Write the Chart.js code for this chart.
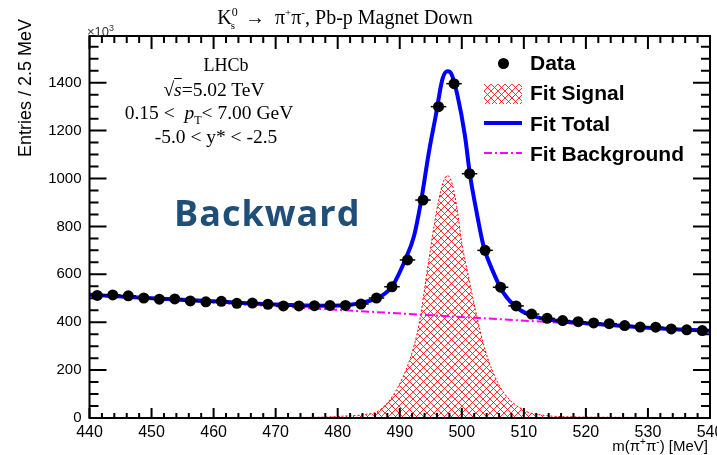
<!DOCTYPE html>
<html>
<head>
<meta charset="utf-8">
<script src="https://cdn.jsdelivr.net/npm/chart.js@4.4.1/dist/chart.umd.min.js"></script>
<style>
body { margin: 0; background: #fff; }
#wrap { position: relative; width: 717px; height: 455px; overflow: hidden; }
#wrap div.t { position: absolute; white-space: nowrap; line-height: 1; color: #000; }
.serif { font-family: 'Liberation Serif', 'Times New Roman', serif; font-size: 19.5px; }
.sans { font-family: 'Liberation Sans', Arial, sans-serif; }
.leg { font-family: 'Liberation Sans', Arial, sans-serif; font-weight: bold; font-size: 21px; }
.sym { position: absolute; }
</style>
</head>
<body>
<div id="wrap">
  <canvas id="myChart" width="717" height="455"></canvas>

  <div class="t serif" style="left:345px; top:6px; font-size:20px; transform:translateX(-50%);">K<sup style="font-size:12px;">0</sup><sub style="font-size:11px; margin-left:-7px;">s</sub>&nbsp; &rarr; &nbsp;&pi;<sup style="font-size:11px;">+</sup>&pi;<sup style="font-size:11px;">-</sup>, Pb-p Magnet Down</div>
  <div class="t sans" style="left:87px; top:24px; font-size:13px; color:#333;">&times;10<sup style="font-size:9px;">3</sup></div>

  <div class="t serif" style="left:226px; top:56px; font-size:18px; transform:translateX(-50%);">LHCb</div>
  <div class="t serif" style="left:214px; top:80px; transform:translateX(-50%);">&radic;<span style="text-decoration:overline; font-style:italic;">s</span>=5.02 TeV</div>
  <div class="t serif" style="left:209px; top:103px; transform:translateX(-50%);">0.15 &lt;&nbsp; <i>p</i><sub style="font-size:12px;">T</sub>&lt; 7.00 GeV</div>
  <div class="t serif" style="left:216px; top:127px; transform:translateX(-50%);">-5.0 &lt; y* &lt; -2.5</div>

  <div class="t" style="left:174px; top:195px; font-family:'Open Sans', sans-serif; font-weight:bold; font-size:36px; letter-spacing:1px; color:#1f4e79;">Backward</div>

  <div class="sym" style="left:498px; top:58px; width:11px; height:11px; border-radius:50%; background:#000;"></div>
  <div class="t leg" style="left:530px; top:52px;">Data</div>
  <div class="sym" id="sigSym" style="left:484px; top:84px; width:38px; height:20px;"></div>
  <div class="t leg" style="left:530px; top:82px;">Fit Signal</div>
  <div class="sym" style="left:484px; top:121px; width:38px; height:4px; background:#0000ff;"></div>
  <div class="t leg" style="left:530px; top:113px;">Fit Total</div>
  <div class="sym" style="left:484px; top:152px; width:38px; height:2px; background:repeating-linear-gradient(90deg, #ff00ff 0 8px, transparent 8px 11px, #ff00ff 11px 13px, transparent 13px 16px);"></div>
  <div class="t leg" style="left:530px; top:143px;">Fit Background</div>

  <div class="t sans" style="left:25px; top:88px; font-size:18px; transform:translate(-50%,-50%) rotate(-90deg);">Entries / 2.5 MeV</div>
  <div class="t sans" style="right:9px; top:437px; font-size:15px;">m(&pi;<sup style="font-size:10px;">+</sup>&pi;<sup style="font-size:10px;">-</sup>) [MeV]</div>
</div>

<script>
// bins of 2.5 MeV, values in units of 10^3 entries
const massBins = [441.25, 443.75, 446.25, 448.75, 451.25, 453.75, 456.25, 458.75, 461.25, 463.75,
                  466.25, 468.75, 471.25, 473.75, 476.25, 478.75, 481.25, 483.75, 486.25, 488.75,
                  491.25, 493.75, 496.25, 498.75, 501.25, 503.75, 506.25, 508.75, 511.25, 513.75,
                  516.25, 518.75, 521.25, 523.75, 526.25, 528.75, 531.25, 533.75, 536.25, 538.75]
const entries = [512, 514, 510, 501, 496, 497, 489, 485, 487, 479,
                 480, 475, 468, 468, 469, 470, 470, 476, 501, 548,
                 660, 910, 1300, 1396, 1020, 700, 546, 468, 434, 416,
                 407, 402, 397, 394, 386, 380, 379, 372, 368, 365]
const binHalfWidth = 1.25

const totalMass = [440, 450, 460, 470, 478, 482, 484.5, 486.6, 488.8, 490.9, 492.3, 493.4, 494.7, 495.8,
                   496.9, 497.7, 498.3, 499.3, 500.5, 501.3, 502.4, 503.5, 505.1, 506.7, 508.9, 511.3,
                   513, 516, 520, 525, 530, 535, 540]
const totalFit = [515, 500, 487, 474, 469, 473, 485, 503, 551, 662, 760, 900, 1110, 1262,
                  1417, 1448, 1438, 1347, 1180, 1019, 858, 718, 607, 523, 460, 428,
                  415, 404, 396, 386, 377, 370, 364]

const signalMass = [440, 470, 478, 481, 484.5, 486.6, 489.3, 491.7, 493.1, 494.7, 496.0, 497.0, 497.7,
                    498.3, 499.2, 500.0, 501.0, 502.2, 503.8, 506.4, 510.2, 513, 516, 525, 540]
const signalFit = [1, 2, 4, 8, 15, 30, 110, 250, 390, 662, 872, 985, 1012,
                   990, 880, 730, 600, 450, 280, 120, 30, 12, 6, 3, 1]

const bkgMass = [440, 540]
const bkgFit = [511, 362]

const xMin = 440, xMax = 540, xStep = 10
const yMin = 0, yMax = 1595
const yTicks = [0, 200, 400, 600, 800, 1000, 1200, 1400]

function toPoints(xs, ys){
    const pts = []
    for (let i = 0; i < xs.length; i++) {
        pts.push({x: xs[i], y: ys[i]})
    }
    return pts
}

function hatchPattern(size){
    const c = document.createElement('canvas')
    c.width = size; c.height = size
    const p = c.getContext('2d')
    p.strokeStyle = '#ff0000'
    p.lineWidth = 0.8
    p.beginPath()
    p.moveTo(0, 0); p.lineTo(size, size)
    p.moveTo(size, 0); p.lineTo(0, size)
    p.stroke()
    return c
}

const tile = hatchPattern(7)
const ctx = document.getElementById('myChart')
const hatch = ctx.getContext('2d').createPattern(tile, 'repeat')
document.getElementById('sigSym').style.backgroundImage = `url(${tile.toDataURL()})`

// horizontal bin-width bars under the data markers
const errorBars = {
    id: 'errorBars',
    beforeDatasetDraw(chart, args){
        if (args.index !== 0) return
        const c = chart.ctx, xs = chart.scales.x, ys = chart.scales.y
        c.save()
        c.strokeStyle = '#000'
        c.lineWidth = 1.5
        for (let i = 0; i < massBins.length; i++) {
            const y = ys.getPixelForValue(entries[i])
            c.beginPath()
            c.moveTo(xs.getPixelForValue(massBins[i] - binHalfWidth), y)
            c.lineTo(xs.getPixelForValue(massBins[i] + binHalfWidth), y)
            c.stroke()
        }
        c.restore()
    }
}

// ROOT style frame with ticks pointing inwards on all sides
const frame = {
    id: 'frame',
    afterDraw(chart){
        const c = chart.ctx, a = chart.chartArea, xs = chart.scales.x, ys = chart.scales.y
        c.save()
        c.strokeStyle = '#000'
        c.lineWidth = 2
        c.strokeRect(a.left, a.top, a.right - a.left, a.bottom - a.top)
        c.beginPath()
        for (let v = xMin; v <= xMax; v += 2) {
            const px = xs.getPixelForValue(v)
            const major = (v - xMin) % xStep === 0
            c.moveTo(px, a.bottom); c.lineTo(px, a.bottom - (major ? 10 : 5))
            c.moveTo(px, a.top); c.lineTo(px, a.top + (major ? 13 : 7))
        }
        for (let v = yMin; v <= yMax; v += 50) {
            const py = ys.getPixelForValue(v)
            const major = v % 200 === 0
            c.moveTo(a.left, py); c.lineTo(a.left + (major ? 17 : 9), py)
            c.moveTo(a.right, py); c.lineTo(a.right - (major ? 17 : 9), py)
        }
        c.stroke()
        c.restore()
    }
}

Chart.defaults.font.family = "'Liberation Sans', Arial, sans-serif"
Chart.defaults.color = '#000'

const chart = new Chart(ctx, {
    type: 'scatter',
    data: {
        datasets: [
            {
                label: 'Data',
                data: toPoints(massBins, entries),
                backgroundColor: '#000',
                borderWidth: 0,
                pointRadius: 5.5,
                showLine: false,
                order: 0
            },
            {
                label: 'Fit Total',
                data: toPoints(totalMass, totalFit),
                showLine: true,
                borderColor: '#0000ff',
                borderWidth: 4,
                pointRadius: 0,
                cubicInterpolationMode: 'monotone',
                order: 1
            },
            {
                label: 'Fit Background',
                data: toPoints(bkgMass, bkgFit),
                showLine: true,
                borderColor: '#ff00ff',
                borderWidth: 2,
                borderDash: [8, 3, 2, 3],
                pointRadius: 0,
                order: 2
            },
            {
                label: 'Fit Signal',
                data: toPoints(signalMass, signalFit),
                showLine: true,
                borderColor: '#ff0000',
                borderWidth: 1,
                borderDash: [2, 2],
                backgroundColor: hatch,
                fill: 'origin',
                pointRadius: 0,
                cubicInterpolationMode: 'monotone',
                order: 3
            }
        ]
    },
    options: {
        responsive: false,
        animation: false,
        devicePixelRatio: 1,
        layout: { padding: { left: 0, right: 7, top: 36, bottom: 0 } },
        plugins: { legend: { display: false }, tooltip: { enabled: false } },
        scales: {
            x: {
                type: 'linear',
                min: xMin,
                max: xMax,
                grid: { display: false, drawTicks: false },
                border: { display: false },
                ticks: { stepSize: xStep, padding: 5, font: { size: 16 }, callback: v => String(v) },
                afterFit(scale){ scale.height = 37; scale.paddingLeft = 0; scale.paddingRight = 0 }
            },
            y: {
                min: yMin,
                max: yMax,
                grid: { display: false, drawTicks: false },
                border: { display: false },
                ticks: { padding: 8, font: { size: 15 }, callback: v => String(v) },
                afterBuildTicks(scale){ scale.ticks = yTicks.map(v => ({value: v})) },
                afterFit(scale){ scale.width = 89.5; scale.paddingTop = 0; scale.paddingBottom = 0 }
            }
        }
    },
    plugins: [errorBars, frame]
})
</script>
</body>
</html>
